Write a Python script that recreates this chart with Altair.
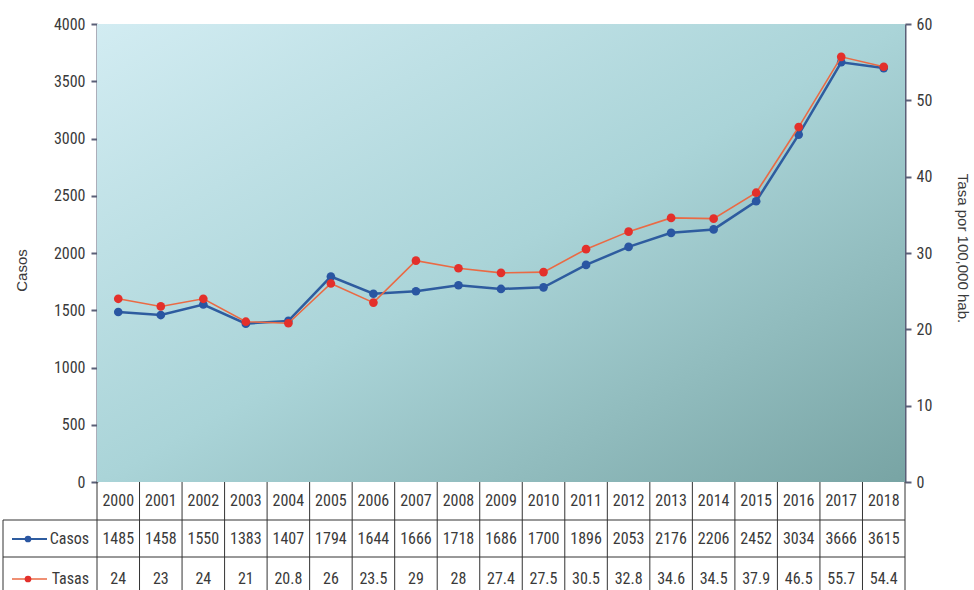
import altair as alt
import pandas as pd

years = list(range(2000, 2019))
casos = [1485, 1458, 1550, 1383, 1407, 1794, 1644, 1666, 1718, 1686,
         1700, 1896, 2053, 2176, 2206, 2452, 3034, 3666, 3615]
tasas = [24, 23, 24, 21, 20.8, 26, 23.5, 29, 28, 27.4,
         27.5, 30.5, 32.8, 34.6, 34.5, 37.9, 46.5, 55.7, 54.4]
series = ["Casos", "Tasas"]
point_colors = ["#2a56a2", "#e3302b"]
line_colors = ["#2e5c9f", "#ea6a44"]
left_ticks = list(range(0, 4001, 500))
right_ticks = list(range(0, 61, 10))

W, H = 808, 458
NARROW = "Liberation Sans Narrow, Roboto Condensed, Liberation Sans, sans-serif"
TEXT = "#3a3a3a"
AXC = "#5a5f77"

df = pd.DataFrame({"year": years, "casos": casos, "tasas": tasas,
                   "casos_t": [str(v) for v in casos],
                   "tasas_t": [str(v) for v in tasas],
                   "year_t": [str(v) for v in years]})
bounds = pd.DataFrame({"b": [years[0] - 0.5 + i for i in range(len(years) + 1)]})
one = pd.DataFrame({"a": [0]})

xs = alt.Scale(domain=[years[0] - 0.5, years[-1] + 0.5], nice=False, zero=False)

bg = alt.Chart(one).mark_rect(
    fill=alt.Gradient(gradient="linear",
                      stops=[alt.GradientStop(color="#d2ecf2", offset=0),
                             alt.GradientStop(color="#aad4d8", offset=0.5),
                             alt.GradientStop(color="#78a4a4", offset=1)],
                      x1=0, y1=0, x2=1, y2=1)
).encode(x=alt.value(0), x2=alt.value(W), y=alt.value(0), y2=alt.value(H))

base = alt.Chart(df)

left_axis = alt.Axis(orient="left", values=left_ticks, format="d", tickSize=6, tickWidth=2,
                     tickColor=AXC, domainColor=AXC, domainWidth=2, grid=False,
                     labelFont=NARROW, labelFontSize=16, labelColor=TEXT, labelPadding=6,
                     title="Casos", titleFont="Liberation Sans", titleFontSize=15,
                     titleFontWeight="normal", titleColor=TEXT, titleAngle=-90,
                     titleX=-76, titleY=246, titleAlign="center", titleBaseline="middle")
right_axis = alt.Axis(orient="right", values=right_ticks, format="d", tickSize=6, tickWidth=2,
                      tickColor=AXC, domainColor=AXC, domainWidth=2, grid=False,
                      labelFont=NARROW, labelFontSize=16, labelColor=TEXT, labelPadding=5,
                      title="Tasa por 100,000 hab.", titleFont="Liberation Sans", titleFontSize=15,
                      titleFontWeight="normal", titleColor=TEXT, titleAngle=90,
                      titleX=57, titleY=224, titleAlign="center", titleBaseline="middle")

X = alt.X("year:Q", scale=xs, axis=None)
yc = alt.Y("casos:Q", scale=alt.Scale(domain=[0, 4000], nice=False), axis=left_axis)
yt = alt.Y("tasas:Q", scale=alt.Scale(domain=[0, 60], nice=False), axis=right_axis)

casos_layer = alt.layer(
    base.mark_line(color=line_colors[0], strokeWidth=2.5).encode(x=X, y=yc),
    base.mark_point(filled=True, shape="circle", size=75, color=point_colors[0], opacity=1).encode(x=X, y=yc),
)
tasas_layer = alt.layer(
    base.mark_line(color=line_colors[1], strokeWidth=1.6).encode(x=X, y=yt),
    base.mark_point(filled=True, shape="circle", size=75, color=point_colors[1], opacity=1).encode(x=X, y=yt),
)

# table grid
vrules = alt.Chart(bounds).mark_rule(color="#333333", strokeWidth=1).encode(
    x=alt.X("b:Q", scale=xs, axis=None), y=alt.value(H), y2=alt.value(H + 140))
hrule1 = alt.Chart(one).mark_rule(color="#333333", strokeWidth=1).encode(
    x=alt.value(-94), x2=alt.value(W), y=alt.value(H + 38))
hrule2 = alt.Chart(one).mark_rule(color="#333333", strokeWidth=1).encode(
    x=alt.value(-94), x2=alt.value(W), y=alt.value(H + 75))
lborder = alt.Chart(one).mark_rule(color="#333333", strokeWidth=1).encode(
    x=alt.value(-94), y=alt.value(H + 38), y2=alt.value(H + 140))

txt = dict(font=NARROW, fontSize=16, color=TEXT, baseline="middle", align="center")
t_year = base.mark_text(**txt).encode(x=X, y=alt.value(H + 19), text="year_t:N")
t_casos = base.mark_text(**txt).encode(x=X, y=alt.value(H + 57), text="casos_t:N")
t_tasas = base.mark_text(**txt).encode(x=X, y=alt.value(H + 97), text="tasas_t:N")

legend_layers = []
for i, name in enumerate(series):
    yy = H + 57 + i * 40
    legend_layers.append(alt.Chart(one).mark_rule(color=line_colors[i], strokeWidth=2 if i == 0 else 1.6).encode(
        x=alt.value(-85), x2=alt.value(-50), y=alt.value(yy)))
    legend_layers.append(alt.Chart(one).mark_point(filled=True, shape="circle", size=45,
                                                   color=point_colors[i], opacity=1).encode(
        x=alt.value(-69), y=alt.value(yy)))
    legend_layers.append(alt.Chart(pd.DataFrame({"s": [name]})).mark_text(
        font=NARROW, fontSize=16, color=TEXT, baseline="middle", align="right").encode(
        x=alt.value(-8), y=alt.value(yy), text="s:N"))

chart = alt.layer(
    bg, casos_layer, tasas_layer, vrules, hrule1, hrule2, lborder,
    t_year, t_casos, t_tasas, *legend_layers
).resolve_scale(y="independent").properties(
    width=W, height=H,
    autosize=alt.AutoSizeParams(type="none"),
    padding={"left": 97, "top": 24, "right": 974 - 97 - W, "bottom": 590 - 24 - H},
).configure_view(stroke=None)

chart.save("out.html", embed_options={"renderer": "svg", "actions": False})
